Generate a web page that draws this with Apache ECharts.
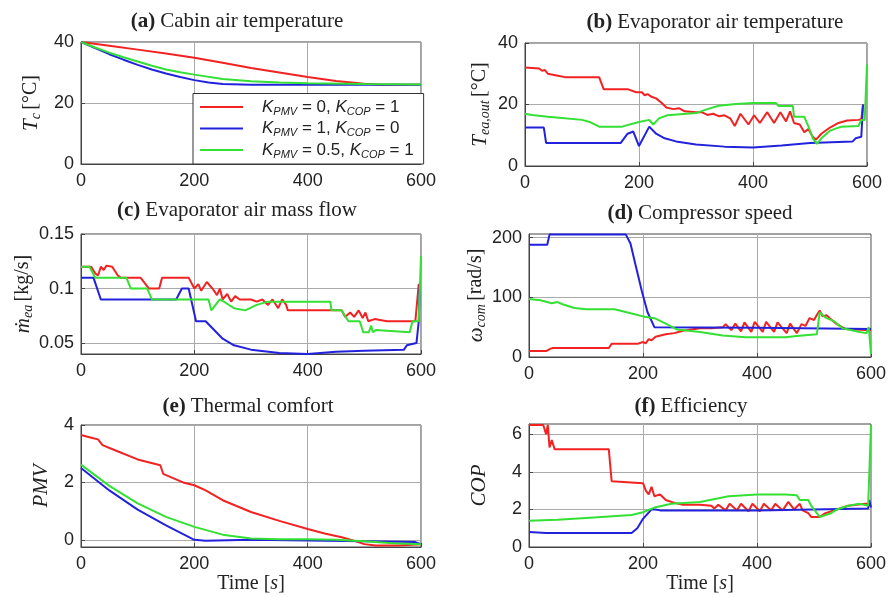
<!DOCTYPE html>
<html>
<head>
<meta charset="utf-8">
<script src="https://cdn.jsdelivr.net/npm/echarts@6/dist/echarts.min.js"></script>
<style>
  html, body { margin: 0; background: #fff; }
  #chart { width: 896px; height: 598px; }
</style>
</head>
<body>
<div id="chart"></div>
<script>
// series names (legend)
const names = ['K_PMV = 0, K_COP = 1', 'K_PMV = 1, K_COP = 0', 'K_PMV = 0.5, K_COP = 1']
const colors = ['#f22222', '#2222dd', '#33e033']
const xTicks = [0, 200, 400, 600]

// (a) cabin air temperature [°C]
const tcRed = [[0,40],[50,38.8],[100,37.5],[150,36.2],[200,34.8],[250,33.2],[300,31.5],[350,30],[400,28.5],[450,27.2],[500,26.3],[530,26],[600,26]]
const tcBlue = [[0,40],[25,38],[50,36],[75,34.2],[100,32.5],[125,31],[150,29.7],[175,28.5],[200,27.5],[225,26.7],[250,26.2],[300,26],[600,26]]
const tcGreen = [[0,40],[25,38.2],[50,36.5],[75,35],[100,33.6],[125,32.2],[150,31],[175,30.1],[200,29.3],[250,27.9],[300,27.1],[350,26.7],[400,26.5],[500,26.2],[600,26.1]]

// (b) evaporator air temperature [°C]
const teaRed = [[0,32],[25,31.7],[30,31],[35,31.2],[40,30],[60,29.3],[70,28.9],[130,28.9],[138,25],[180,25],[195,24],[205,24],[210,23],[215,23.4],[222,22.5],[230,22],[240,20.5],[248,19],[260,18.5],[270,18.8],[280,17.8],[300,17.5],[310,17.5],[320,16.6],[330,17],[340,16.2],[350,16.5],[360,15.5],[368,13],[378,17],[392,13.5],[402,16.5],[412,14],[425,17.5],[437,14],[448,17.5],[458,14.5],[465,17.8],[472,14],[482,13.5],[490,11],[497,12],[505,9.5],[510,8.5],[520,10.5],[535,12.5],[550,14],[565,14.8],[585,15],[590,15.2],[593,20]]
const teaBlue = [[0,12.5],[33,12.5],[37,7.5],[168,7.5],[180,10.5],[190,11.2],[200,6.5],[218,12.8],[230,10.5],[245,9],[265,8],[300,7],[350,6.3],[400,6],[450,6.7],[500,7.5],[575,8],[580,9],[590,9.5],[593,20]]
const teaGreen = [[0,17],[12,16.6],[40,16],[60,15.7],[100,15],[115,14.2],[130,12.8],[170,12.8],[200,14.3],[218,15],[225,13.5],[235,15.5],[250,16.5],[300,17.2],[320,18.5],[340,19.6],[370,20.2],[400,20.5],[440,20.5],[445,19.5],[470,19.5],[472,16],[490,16],[497,13],[505,9],[512,7.2],[520,9],[535,11.5],[555,12.8],[585,13],[590,15],[596,15],[600,33]]

// (c) evaporator air mass flow [kg/s]
const mRed = [[0,0.12],[18,0.12],[25,0.114],[30,0.112],[35,0.12],[40,0.117],[45,0.121],[55,0.12],[65,0.112],[70,0.11],[105,0.11],[120,0.1],[138,0.1],[143,0.11],[190,0.11],[200,0.1],[207,0.104],[212,0.098],[222,0.106],[232,0.1],[240,0.094],[245,0.1],[250,0.09],[258,0.095],[265,0.088],[272,0.093],[280,0.09],[300,0.09],[310,0.088],[320,0.09],[330,0.085],[338,0.09],[348,0.082],[355,0.09],[362,0.085],[365,0.08],[460,0.08],[466,0.074],[475,0.078],[482,0.074],[490,0.08],[497,0.073],[502,0.078],[507,0.07],[518,0.072],[540,0.07],[590,0.07],[596,0.104]]
const mBlue = [[0,0.11],[22,0.11],[35,0.09],[168,0.09],[178,0.1],[190,0.1],[203,0.07],[220,0.07],[235,0.062],[250,0.054],[270,0.048],[300,0.044],[350,0.041],[400,0.04],[450,0.042],[500,0.043],[570,0.044],[575,0.048],[592,0.05],[596,0.07],[598,0.105]]
const mGreen = [[0,0.12],[15,0.12],[25,0.11],[80,0.11],[88,0.1],[117,0.1],[125,0.09],[225,0.09],[230,0.08],[245,0.09],[255,0.087],[270,0.082],[290,0.08],[310,0.085],[330,0.088],[440,0.088],[442,0.08],[460,0.08],[472,0.07],[492,0.07],[498,0.06],[508,0.06],[512,0.066],[515,0.06],[520,0.062],[580,0.06],[585,0.07],[596,0.07],[600,0.13]]

// (d) compressor speed [rad/s]
const wRed = [[0,10],[30,10],[38,14],[42,15],[140,15],[145,22],[190,22],[200,25],[205,23],[210,30],[215,28],[222,34],[240,38],[255,40],[270,44],[285,46],[300,48],[320,48],[340,50],[345,55],[355,45],[362,56],[372,43],[378,58],[390,42],[396,59],[410,42],[416,59],[430,42],[436,58],[452,40],[458,56],[470,40],[478,55],[485,52],[492,65],[500,62],[506,72],[510,78],[515,68],[522,70],[530,63],[540,55],[555,47],[600,45]]
const wBlue = [[0,188],[32,188],[36,205],[170,205],[178,190],[188,150],[198,110],[208,75],[220,50],[400,49],[600,47]]
const wGreen = [[0,97],[20,95],[40,90],[50,92],[60,88],[80,82],[100,80],[150,80],[180,73],[200,68],[220,65],[240,56],[260,46],[300,42],[340,36],[380,33],[450,33],[470,35],[505,38],[510,75],[520,66],[535,60],[550,48],[580,42],[592,40],[596,50],[600,5]]

// (e) thermal comfort PMV
const pmvRed = [[0,3.65],[20,3.55],[30,3.5],[38,3.3],[60,3.12],[100,2.8],[140,2.6],[145,2.3],[180,2.0],[200,1.9],[220,1.72],[250,1.38],[300,0.97],[350,0.66],[400,0.38],[430,0.22],[460,0.09],[480,-0.02],[500,-0.15],[520,-0.2],[560,-0.2],[600,-0.15]]
const pmvBlue = [[0,2.5],[50,1.72],[100,1.05],[150,0.5],[200,0],[220,-0.03],[300,0],[400,-0.02],[500,-0.05],[590,-0.08],[600,-0.15]]
const pmvGreen = [[0,2.62],[50,1.88],[100,1.27],[150,0.8],[200,0.45],[250,0.18],[300,0.05],[350,0.02],[400,0.02],[450,0],[500,-0.05],[550,-0.12],[600,-0.15]]

// (f) efficiency COP
const copRed = [[0,6.5],[25,6.5],[30,6.0],[33,6.5],[36,5.3],[40,5.7],[45,5.2],[140,5.2],[145,3.5],[200,3.4],[205,3.0],[210,2.8],[215,3.2],[220,2.7],[230,2.8],[240,2.5],[255,2.35],[270,2.25],[300,2.25],[320,2.2],[325,2.05],[332,2.25],[345,1.95],[352,2.3],[365,1.95],[372,2.3],[385,1.9],[392,2.3],[405,1.9],[412,2.3],[425,1.95],[432,2.3],[445,1.95],[455,2.4],[465,2.0],[475,2.3],[480,1.95],[490,1.8],[495,1.6],[510,1.6],[520,1.8],[540,2.0],[560,2.2],[590,2.3],[595,2.3]]
const copBlue = [[0,0.8],[30,0.75],[180,0.75],[190,1.0],[200,1.5],[215,2.0],[222,2.0],[230,1.95],[400,1.95],[595,2.05],[597,2.5],[600,2.1]]
const copGreen = [[0,1.4],[50,1.45],[100,1.55],[180,1.7],[200,1.85],[220,2.1],[250,2.3],[300,2.4],[350,2.7],[400,2.8],[450,2.8],[470,2.75],[475,2.5],[490,2.5],[495,2.2],[510,1.6],[530,1.8],[540,2.0],[560,2.2],[580,2.3],[595,2.2],[600,6.5]]

// 通用样式
const sans = 'Liberation Sans'
const serif = 'Liberation Serif'
const nameRich = {
  i: {fontFamily: serif, fontStyle: 'italic', fontSize: 21, color: '#222', lineHeight: 24},
  s: {fontFamily: serif, fontStyle: 'italic', fontSize: 14, color: '#222', verticalAlign: 'bottom', lineHeight: 14},
  n: {fontFamily: serif, fontSize: 20, color: '#222', lineHeight: 24}
}
const titleRich = {
  b: {fontFamily: serif, fontWeight: 'bold', fontSize: 21, color: '#222'},
  t: {fontFamily: serif, fontWeight: 'normal', fontSize: 21, color: '#222'}
}

const grids = [
  {left: 81, top: 42, width: 340, height: 122},
  {left: 525, top: 43, width: 342, height: 123},
  {left: 81, top: 234, width: 340, height: 120},
  {left: 529, top: 234, width: 342, height: 123},
  {left: 81, top: 425, width: 340, height: 122},
  {left: 529, top: 424, width: 342, height: 123}
]
const yConf = [
  {min: 0, max: 40, ticks: [0, 20, 40], name: '{i|T}{s|c} {n|[°C]}', gap: 38},
  {min: 0, max: 40, ticks: [0, 20, 40], name: '{i|T}{s|ea,out} {n|[°C]}', gap: 33},
  {min: 0.04, max: 0.15, ticks: [0.05, 0.1, 0.15], name: '{i|ṁ}{s|ea} {n|[kg/s]}', gap: 42},
  {min: 0, max: 206, ticks: [0, 100, 200], name: '{i|ω}{s|com} {n|[rad/s]}', gap: 41},
  {min: -0.25, max: 4, ticks: [0, 2, 4], name: '{i|PMV}', gap: 28},
  {min: 0, max: 6.55, ticks: [0, 2, 4, 6], name: '{i|COP}', gap: 38}
]
const titles = [
  ['(a)', 'Cabin air temperature', 237, 11],
  ['(b)', 'Evaporator air temperature', 715, 12],
  ['(c)', 'Evaporator air mass flow', 237, 200],
  ['(d)', 'Compressor speed', 700, 203],
  ['(e)', 'Thermal comfort', 248, 396],
  ['(f)', 'Efficiency', 691, 396]
]
const panels = [
  [tcRed, tcBlue, tcGreen],
  [teaRed, teaBlue, teaGreen],
  [mRed, mBlue, mGreen],
  [wRed, wBlue, wGreen],
  [pmvRed, pmvBlue, pmvGreen],
  [copRed, copBlue, copGreen]
]

const legendLabel = {
  [names[0]]: '{k|K}{s|PMV}{n| = 0, }{k|K}{s|COP}{n| = 1}',
  [names[1]]: '{k|K}{s|PMV}{n| = 1, }{k|K}{s|COP}{n| = 0}',
  [names[2]]: '{k|K}{s|PMV}{n| = 0.5, }{k|K}{s|COP}{n| = 1}'
}

const chart = echarts.init(document.getElementById('chart'), null, {renderer: 'canvas'})

const xAxis = grids.map((g, i) => ({
  type: 'value',
  gridIndex: i,
  min: 0,
  max: 600,
  interval: 200,
  name: i >= 4 ? '{n|Time [}{i|s}{n|]}' : '',
  nameLocation: 'middle',
  nameGap: 24,
  nameTextStyle: {rich: {n: {fontFamily: serif, fontSize: 20, color: '#222'}, i: {fontFamily: serif, fontStyle: 'italic', fontSize: 20, color: '#222'}}},
  axisLine: {show: true, onZero: false, lineStyle: {color: '#444', width: 1}},
  axisTick: {show: true, inside: true, length: 4, lineStyle: {color: '#444'}},
  axisLabel: {fontFamily: sans, fontSize: 18, color: '#222', margin: 8},
  splitLine: {show: true, lineStyle: {color: '#aaa', width: 1}}
}))

const yAxis = yConf.map((c, i) => ({
  type: 'value',
  gridIndex: i,
  min: c.min,
  max: c.max,
  name: c.name,
  nameLocation: 'middle',
  nameGap: c.gap,
  nameTextStyle: {rich: nameRich},
  axisLine: {show: true, onZero: false, lineStyle: {color: '#444', width: 1}},
  axisTick: {show: true, inside: true, length: 4, lineStyle: {color: '#444'}, customValues: c.ticks},
  axisLabel: {fontFamily: sans, fontSize: 18, color: '#222', margin: 7, customValues: c.ticks},
  splitLine: {show: true, lineStyle: {color: '#aaa', width: 1}}
}))

const series = []
panels.forEach((p, i) => {
  p.forEach((d, k) => {
    series.push({
      name: names[k],
      type: 'line',
      xAxisIndex: i,
      yAxisIndex: i,
      data: d,
      symbol: 'none',
      clip: true,
      lineStyle: {color: colors[k], width: 2},
      itemStyle: {color: colors[k]}
    })
  })
})

const option = {
  backgroundColor: '#fff',
  animation: false,
  title: titles.map(t => ({
    text: '{b|' + t[0] + '} {t|' + t[1] + '}',
    left: t[2],
    top: t[3],
    textAlign: 'center',
    padding: 0,
    textStyle: {fontWeight: 'normal', rich: titleRich}
  })),
  legend: {
    data: names,
    left: 193,
    bottom: 598 - 164,
    orient: 'vertical',
    backgroundColor: '#fff',
    borderColor: '#333',
    borderWidth: 1,
    padding: [5, 10, 4, 7],
    itemWidth: 43,
    itemHeight: 14,
    itemGap: 3,
    icon: 'path://M0,6 L43,6 L43,8 L0,8 Z',
    formatter: n => legendLabel[n],
    textStyle: {
      padding: [0, 0, 0, 14],
      rich: {
        k: {fontFamily: sans, fontStyle: 'italic', fontSize: 17, color: '#222', lineHeight: 20},
        s: {fontFamily: sans, fontStyle: 'italic', fontSize: 11, color: '#222', verticalAlign: 'bottom', lineHeight: 12},
        n: {fontFamily: sans, fontSize: 17, color: '#222', lineHeight: 20}
      }
    }
  },
  grid: grids.map(g => ({...g, show: true, borderColor: '#444', borderWidth: 1, backgroundColor: 'transparent'})),
  xAxis,
  yAxis,
  series
}
chart.setOption(option)
</script>
</body>
</html>
